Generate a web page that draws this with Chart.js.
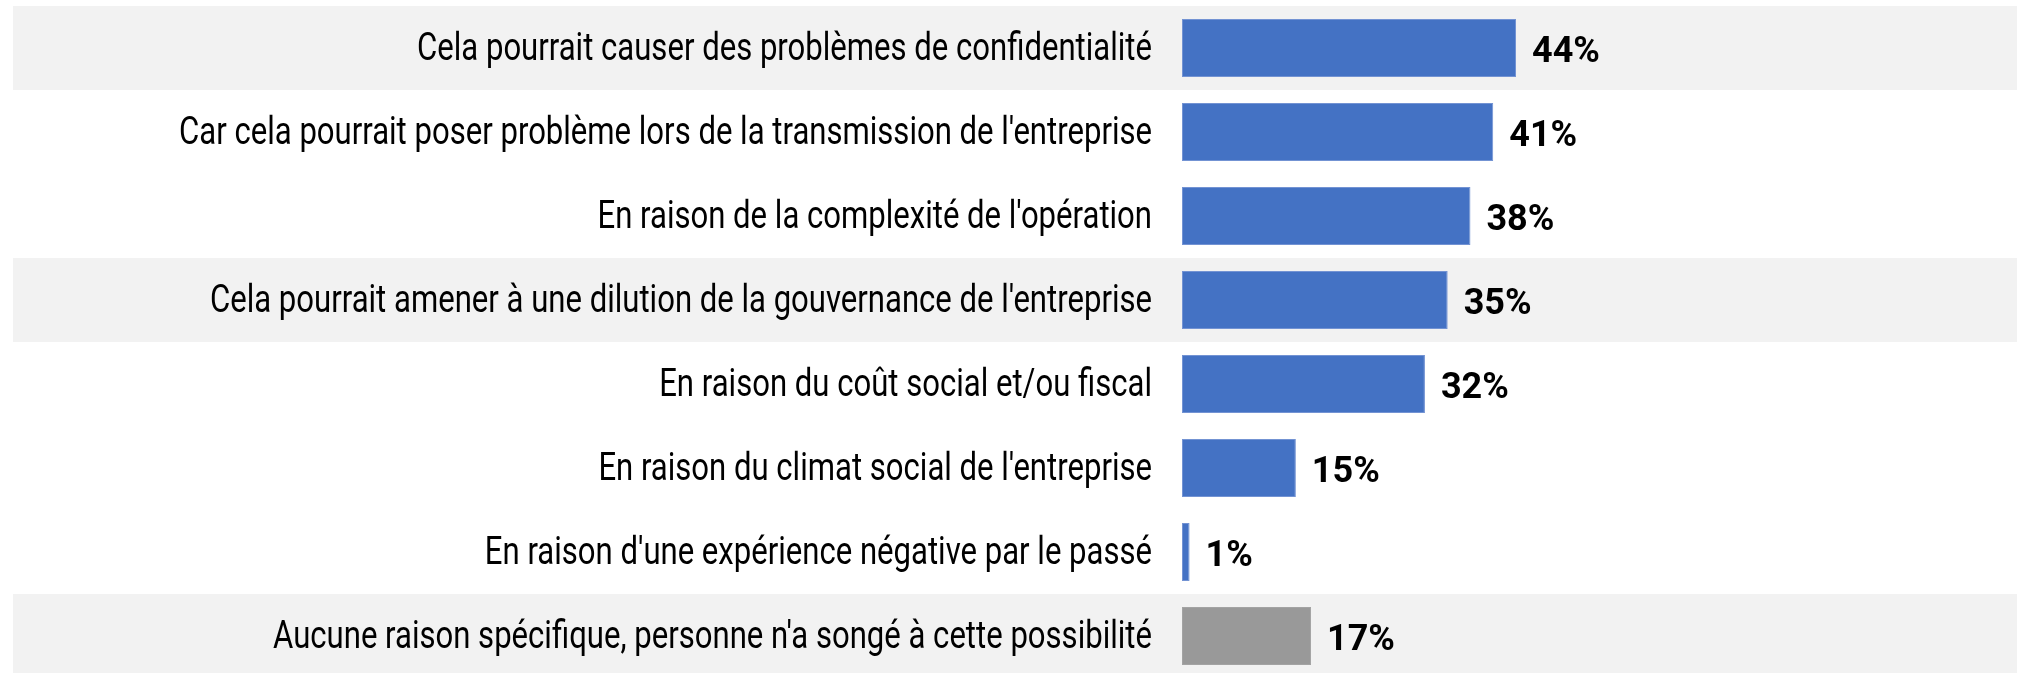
<!DOCTYPE html>
<html>
<head>
<meta charset="utf-8">
<script src="https://cdn.jsdelivr.net/npm/chart.js@4.4.1/dist/chart.umd.min.js"></script>
<style>
  html, body { margin: 0; padding: 0; background: #ffffff; overflow: hidden; }
  #wrap { position: relative; width: 2017px; height: 678px; }
</style>
</head>
<body>
<div id="wrap"><canvas id="c"></canvas></div>
<script>
const categories = [
  "Cela pourrait causer des problèmes de confidentialité",
  "Car cela pourrait poser problème lors de la transmission de l'entreprise",
  "En raison de la complexité de l'opération",
  "Cela pourrait amener à une dilution de la gouvernance de l'entreprise",
  "En raison du coût social et/ou fiscal",
  "En raison du climat social de l'entreprise",
  "En raison d'une expérience négative par le passé",
  "Aucune raison spécifique, personne n'a songé à cette possibilité"
];
const values = [44, 41, 38, 35, 32, 15, 1, 17];
const valueLabels = ["44%", "41%", "38%", "35%", "32%", "15%", "1%", "17%"];

const FONT = "Roboto, 'Liberation Sans', sans-serif";
const LABEL_SQUEEZE = 0.818;
const shadedRows = [0, 3, 7];

const bandPlugin = {
  id: 'bands',
  beforeDraw(chart) {
    const { ctx, scales } = chart;
    const y = scales.y;
    const step = Math.abs(y.getPixelForValue(1) - y.getPixelForValue(0));
    ctx.save();
    ctx.fillStyle = '#F2F2F2';
    shadedRows.forEach(i => {
      const cy = y.getPixelForValue(i);
      ctx.fillRect(13, cy - step / 2, chart.width - 13, step);
    });
    ctx.restore();
  }
};

const valuePlugin = {
  id: 'values',
  afterDatasetsDraw(chart) {
    const { ctx } = chart;
    const meta = chart.getDatasetMeta(0);
    ctx.save();
    ctx.font = "bold 36px " + FONT;
    ctx.fillStyle = '#000000';
    ctx.textAlign = 'left';
    ctx.textBaseline = 'alphabetic';
    meta.data.forEach((bar, i) => {
      ctx.fillText(valueLabels[i], bar.x + 16, bar.y + 14);
    });
    ctx.restore();
  }
};

new Chart(document.getElementById('c'), {
  type: 'bar',
  data: {
    labels: categories,
    datasets: [{
      data: values,
      backgroundColor: values.map((v, i) => i === values.length - 1 ? '#999999' : '#4472C4'),
      borderColor: values.map((v, i) => i === values.length - 1 ? '#A3A3A3' : '#7393D3'),
      borderWidth: 1,
      borderSkipped: false,
      categoryPercentage: 1.0,
      barPercentage: 0.69
    }]
  },
  options: {
    indexAxis: 'y',
    responsive: true,
    maintainAspectRatio: false,
    animation: false,
    layout: { padding: { top: 6, left: 0, right: 0, bottom: 0 } },
    plugins: { legend: { display: false }, tooltip: { enabled: false } },
    scales: {
      x: {
        min: 0, max: 110,
        display: false,
        grid: { display: false }
      },
      y: {
        grid: { display: false, drawTicks: false },
        border: { display: false },
        afterFit(scale) {
          scale.width = 1182;
          scale.paddingTop = 0;
          scale.paddingBottom = 0;
          if (!scale._squeezed) {
            scale._computeLabelArea = function () { return undefined; };
            const orig = scale.drawLabels.bind(scale);
            scale.drawLabels = function (area) {
              const ctx = this.ctx;
              const xr = this.right - this.options.ticks.padding;
              ctx.save();
              ctx.translate(xr, 2);
              ctx.scale(LABEL_SQUEEZE, 1);
              ctx.translate(-xr, 0);
              orig(area);
              ctx.restore();
            };
            scale._squeezed = true;
          }
        },
        ticks: {
          color: '#000000',
          padding: 30,
          font: { family: FONT, size: 38 }
        }
      }
    }
  },
  plugins: [bandPlugin, valuePlugin]
});
</script>
</body>
</html>
